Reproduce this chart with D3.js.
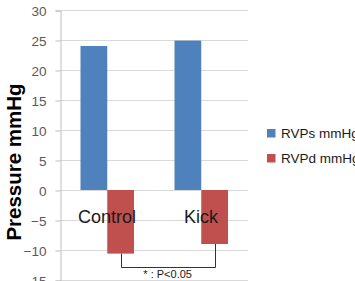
<!DOCTYPE html>
<html><head><meta charset="utf-8">
<script src="https://cdn.jsdelivr.net/npm/d3@7"></script>
<style>body{margin:0;background:#fff;overflow:hidden}svg{display:block}</style>
</head><body>
<script>
const categories = ["Control", "Kick"];
const seriesNames = ["RVPs mmHg", "RVPd mmHg"];
const rvps = [24.0, 24.9];
const rvpd = [-10.6, -9.0];
const yTicks = [-15, -10, -5, 0, 5, 10, 15, 20, 25, 30];
const colors = ["#4F81BD", "#C0504D"];
const yTitle = "Pressure mmHg";
const sigLabel = "* : P<0.05";

const W = 355, H = 281;
const svg = d3.select("body").append("svg").attr("width", W).attr("height", H);
const font = "'Liberation Sans', Arial, sans-serif";

const y = d3.scaleLinear().domain([-15, 30]).range([280, 10]);
const x = d3.scaleBand().domain(categories).range([60, 248]).padding(0);
const xs = d3.scaleBand().domain(seriesNames).range([20.5, 74]).padding(0);

// gridlines
svg.append("g").selectAll("line").data(yTicks).join("line")
  .attr("x1", 60).attr("x2", 248)
  .attr("y1", d => y(d) + 0.5).attr("y2", d => y(d) + 0.5)
  .attr("stroke", "#d9d9d9").attr("stroke-width", 1);

// y axis
const yAxis = d3.axisLeft(y).tickValues(yTicks).tickSize(5).tickPadding(9);
const ga = svg.append("g").attr("transform", "translate(60.5,0.5)").call(yAxis);
ga.select(".domain").attr("stroke", "#bfbfbf");
ga.selectAll(".tick line").attr("stroke", "#bfbfbf");
ga.selectAll(".tick text").attr("font-family", font).attr("font-size", 13.5).attr("fill", "#595959").attr("dy", "0.35em");

// bars
const data = [];
categories.forEach((c, i) => {
  data.push({cat: c, s: seriesNames[0], v: rvps[i], col: colors[0]});
  data.push({cat: c, s: seriesNames[1], v: rvpd[i], col: colors[1]});
});
svg.append("g").selectAll("rect").data(data).join("rect")
  .attr("x", d => x(d.cat) + xs(d.s))
  .attr("width", xs.bandwidth())
  .attr("y", d => y(Math.max(0, d.v)))
  .attr("height", d => Math.abs(y(d.v) - y(0)))
  .attr("fill", d => d.col);

// category labels
svg.append("g").selectAll("text").data(categories).join("text")
  .attr("x", d => x(d) + x.bandwidth() / 2)
  .attr("y", 223)
  .attr("text-anchor", "middle")
  .attr("font-family", font).attr("font-size", 18).attr("fill", "#1a1a1a")
  .text(d => d);

// y title
svg.append("text")
  .attr("transform", "translate(21,162) rotate(-90)")
  .attr("text-anchor", "middle")
  .attr("font-family", font).attr("font-size", 20.5).attr("font-weight", "bold").attr("fill", "#000")
  .text(yTitle);

// significance bracket
const bx1 = x(categories[0]) + xs(seriesNames[1]) + xs.bandwidth() / 2;
const bx2 = x(categories[1]) + xs(seriesNames[1]) + xs.bandwidth() / 2;
const by = 267.5;
svg.append("path")
  .attr("d", `M${Math.round(bx1)+0.5},${y(rvpd[0])} V${by} H${Math.round(bx2)+0.5} V${y(rvpd[1])}`)
  .attr("fill", "none").attr("stroke", "#333").attr("stroke-width", 1);
svg.append("text")
  .attr("x", (bx1 + bx2) / 2).attr("y", 278)
  .attr("text-anchor", "middle")
  .attr("font-family", font).attr("font-size", 11).attr("fill", "#1a1a1a")
  .text(sigLabel);

// legend
const lg = svg.append("g").selectAll("g").data(seriesNames).join("g")
  .attr("transform", (d, i) => `translate(267,${129 + i * 25})`);
lg.append("rect").attr("width", 8.5).attr("height", 8.5).attr("fill", (d, i) => colors[i]);
lg.append("text").attr("x", 14).attr("y", 8.5)
  .attr("font-family", font).attr("font-size", 13.5).attr("fill", "#1a1a1a")
  .text(d => d);
</script>
</body></html>
